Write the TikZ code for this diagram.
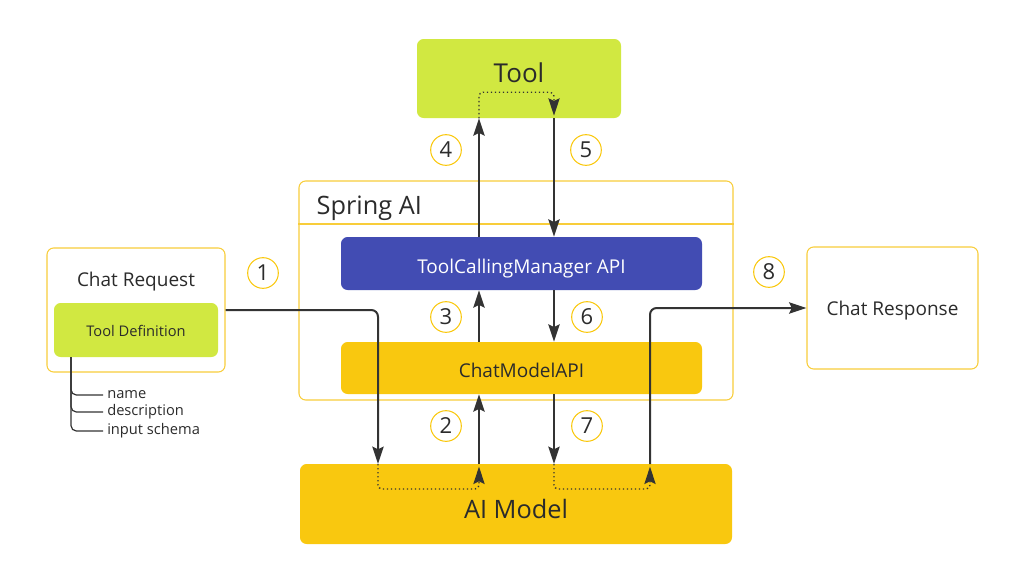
\documentclass[tikz,border=0pt]{standalone}
\usepackage{fontspec}
\setmainfont{Open Sans}
\usetikzlibrary{arrows.meta}
\definecolor{ink}{HTML}{2B2B2B}
\definecolor{wire}{HTML}{333333}
\definecolor{lime}{HTML}{D1E841}
\definecolor{amber}{HTML}{F9C80F}
\definecolor{rim}{HTML}{F8CD3A}
\definecolor{indigo}{HTML}{424CB3}
\begin{document}
\begin{tikzpicture}[x=0.75pt,y=-0.75pt,
  every node/.style={font=\fontsize{11}{13}\selectfont,color=ink},
  box/.style={rectangle,rounded corners=5pt,inner sep=0pt},
  frame/.style={box,draw=rim,line width=0.8pt},
  flow/.style={wire,line width=1.5pt,-{Stealth[length=13pt,width=8.5pt,inset=2pt]}},
  dots/.style={wire,line width=1pt,dotted,rounded corners=3pt,-{Stealth[length=13pt,width=8.5pt,inset=2pt]}},
  numc/.style={circle,draw=amber,line width=0.8pt,minimum size=23pt,inner sep=0pt,font=\fontsize{16.5}{16.5}\selectfont},
  branch/.style={wire,line width=0.9pt,rounded corners=4pt}]
\useasboundingbox (0,0) rectangle (1026,565);
% boxes
\node[box,fill=lime,minimum width=153pt,minimum height=59.25pt] (tool) at (519,78.5) {};
\node[font=\fontsize{19.5}{19.5}\selectfont] (toollab) at ([yshift=4pt]tool.center) {Tool};
\node[frame,minimum width=325.5pt,minimum height=164.25pt] (spring) at (516,290.5) {};
\draw[rim,line width=0.8pt] (spring.west |- 0,224) -- (spring.east |- 0,224);
\node[anchor=west,font=\fontsize{19}{19}\selectfont] (springlab) at (312,208) {Spring AI};
\node[box,fill=indigo,minimum width=270.75pt,minimum height=39.75pt] (mgr) at (521.5,263.5) {};
\node[text=white,font=\fontsize{14.25}{14.25}\selectfont] (mgrlab) at ([yshift=-3.5pt]mgr.center) {ToolCallingManager API};
\node[box,fill=amber,minimum width=270.75pt,minimum height=39pt] (cmapi) at (521.5,368) {};
\node[font=\fontsize{14.25}{14.25}\selectfont] (cmapilab) at ([yshift=-2pt]cmapi.center) {ChatModelAPI};
\node[box,fill=amber,minimum width=324pt,minimum height=60pt] (model) at (516,504) {};
\node[font=\fontsize{19}{19}\selectfont] (modellab) at ([yshift=-4pt]model.center) {AI Model};
\node[frame,minimum width=133.5pt,minimum height=93pt] (req) at (136,310) {};
\node[font=\fontsize{14.25}{14.25}\selectfont] (reqlab) at (136,282) {Chat Request};
\node[box,fill=lime,minimum width=123pt,minimum height=40.5pt] (tdef) at (136,330) {};
\node (tdeflab) at ([yshift=-0.75pt]tdef.center) {Tool Definition};
\node[frame,minimum width=128.25pt,minimum height=91.5pt] (resp) at (892.5,308) {};
\node[font=\fontsize{14.25}{14.25}\selectfont] (resplab) at ([yshift=-2.25pt]resp.center) {Chat Response};
% fields of the tool definition
\coordinate (root) at (71,357);
\foreach \k/\y/\t in {f1/395/name, f2/412/description, f3/431/input schema}{
  \node[anchor=west,inner sep=3pt] (\k) at (103,\y) {\t};
  \draw[branch] (root) |- (\k.west);
}
% drop points on the model
\coordinate (in1) at (378,464);
\coordinate (out1) at (479,464);
\coordinate (in2) at (554,464);
\coordinate (out2) at (650,464);
% request path
\draw[flow,rounded corners=5pt] (req.east) -| (in1);
\draw[dots] (in1) -- ++(0,25) -| ([yshift=-2pt]out1);
\draw[flow] (out1) -- (out1 |- cmapi.south);
\draw[flow] (cmapi.north -| out1) -- (mgr.south -| out1);
\draw[flow] (mgr.north -| out1) -- (tool.south -| out1);
\draw[dots] (tool.south -| out1) -- ++(0,-26) -| ([yshift=2pt]tool.south -| in2);
% response path
\draw[flow] (tool.south -| in2) -- (mgr.north -| in2);
\draw[flow] (mgr.south -| in2) -- (cmapi.north -| in2);
\draw[flow] (cmapi.south -| in2) -- (in2);
\draw[dots] (in2) -- ++(0,25) -| ([yshift=-2pt]out2);
\draw[flow,rounded corners=5pt] (out2) |- (resp.west);
% step numbers
\foreach \n/\x/\y in {1/263/273, 2/446/426, 3/446/317, 4/446/150,
  5/586/150, 6/587/317, 7/587/426, 8/769/272}{
  \node[numc] (c\n) at (\x,\y) {\n};
}
\end{tikzpicture}
\end{document}
